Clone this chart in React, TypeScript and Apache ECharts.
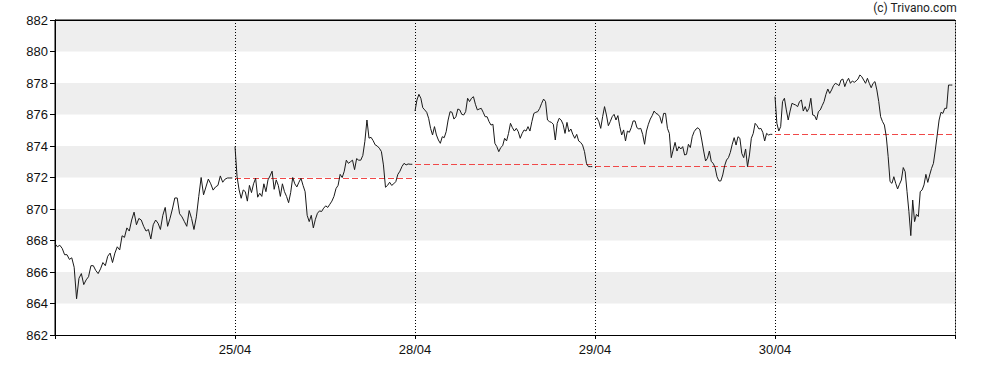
import React, { useEffect, useRef } from "react";
import * as echarts from "echarts";

const dayLabels = ["24/04", "25/04", "28/04", "29/04", "30/04"];
const yTicks = [862, 864, 866, 868, 870, 872, 874, 876, 878, 880, 882];

const day1 = [867.8, 867.6, 867.7, 867.5, 867.1, 867.1, 866.8, 866.9, 866.3, 864.3, 865.6, 865.9, 865.2, 865.5, 865.7, 866.4, 866.4, 866.1, 865.9, 866.2, 866.6, 866.4, 867.0, 867.2, 866.6, 867.2, 867.6, 867.4, 868.3, 868.2, 868.8, 868.6, 869.3, 869.8, 869.0, 869.4, 869.3, 868.9, 868.6, 868.7, 868.1, 869.0, 869.3, 869.1, 868.7, 869.6, 870.1, 868.9, 869.4, 870.0, 870.7, 870.7, 869.7, 869.5, 869.2, 868.9, 869.9, 869.4, 868.7, 869.5, 870.8, 872.0, 870.9, 871.4, 871.9, 871.6, 871.2, 871.4, 871.5, 872.1, 871.7, 871.9, 871.97, 871.97, 871.97];

const day2 = [873.96, 872.06, 871.21, 870.68, 871.21, 871.1, 870.5, 871.5, 871.04, 871.6, 871.95, 870.75, 871.0, 870.8, 871.6, 871.1, 871.85, 872.1, 872.4, 871.25, 871.85, 871.5, 870.8, 871.6, 871.1, 870.8, 870.4, 871.04, 872.0, 871.6, 871.4, 871.7, 871.95, 871.5, 871.1, 869.6, 869.2, 869.6, 868.8, 869.35, 869.73, 869.88, 869.84, 870.05, 870.2, 870.1, 870.3, 870.5, 870.8, 871.3, 871.5, 872.2, 872.0, 872.4, 873.1, 872.9, 873.0, 873.1, 872.5, 873.2, 873.1, 873.1, 873.4, 874.3, 875.65, 874.5, 874.55, 874.34, 874.07, 874.0, 873.86, 873.65, 872.8, 871.38, 871.5, 871.7, 871.5, 871.6, 871.74, 872.2, 872.4, 872.7, 872.9, 872.8, 872.86, 872.84, 872.84];

const day3 = [876.22, 876.92, 877.28, 877.03, 876.43, 876.29, 876.14, 875.76, 875.12, 874.7, 875.23, 874.7, 874.38, 874.17, 874.59, 874.53, 874.91, 875.65, 876.18, 876.14, 875.71, 875.86, 876.35, 876.29, 876.01, 875.97, 876.18, 877.03, 876.82, 877.03, 877.13, 876.65, 876.29, 876.35, 876.39, 876.14, 875.86, 875.86, 875.55, 875.33, 875.38, 874.17, 873.96, 873.64, 873.9, 874.02, 874.49, 874.32, 874.8, 875.44, 875.16, 874.95, 875.12, 874.91, 874.49, 874.8, 875.02, 874.95, 875.23, 874.95, 875.55, 876.07, 876.14, 876.18, 876.39, 876.71, 876.98, 876.82, 875.65, 875.55, 875.5, 875.38, 874.38, 875.44, 875.76, 875.65, 875.38, 874.8, 875.5, 874.91, 875.08, 874.74, 874.49, 874.74, 874.32, 874.23, 874.06, 873.64, 872.9, 872.69, 872.69, 872.69];

const day4 = [875.65, 875.8, 875.55, 875.12, 875.86, 876.5, 875.97, 875.29, 875.55, 875.86, 876.01, 875.65, 875.93, 875.23, 874.7, 875.02, 874.32, 874.95, 874.87, 875.16, 875.59, 875.59, 875.16, 875.08, 875.12, 874.74, 874.11, 874.95, 875.38, 875.71, 875.93, 876.22, 876.07, 876.01, 875.86, 875.44, 876.07, 876.07, 875.12, 874.8, 873.26, 873.75, 874.23, 873.68, 873.96, 873.81, 873.96, 873.43, 873.47, 874.11, 873.9, 874.59, 874.91, 875.08, 875.16, 875.02, 874.38, 873.68, 873.05, 873.22, 873.68, 873.01, 872.9, 872.63, 872.05, 871.78, 871.78, 872.16, 872.75, 873.11, 873.26, 873.6, 874.11, 874.53, 874.06, 874.59, 874.49, 873.53, 873.26, 873.81, 872.69, 873.43, 874.49, 874.8, 875.44, 875.29, 875.08, 875.12, 874.87, 874.32, 874.8, 874.7, 874.74, 874.74];

const day5 = [877.13, 875.44, 874.95, 875.23, 876.82, 877.03, 876.29, 875.65, 876.22, 876.71, 876.65, 876.6, 876.5, 876.82, 876.92, 876.22, 876.5, 876.18, 876.39, 877.03, 875.97, 875.93, 875.65, 876.18, 876.29, 876.56, 876.82, 877.28, 877.62, 877.34, 877.56, 877.83, 877.98, 877.92, 877.83, 878.19, 878.25, 877.77, 878.09, 878.3, 877.98, 878.13, 878.04, 878.13, 878.25, 878.51, 878.4, 878.19, 877.98, 878.3, 877.98, 877.7, 877.98, 878.09, 877.56, 876.82, 875.86, 875.55, 875.33, 874.59, 873.32, 871.74, 871.63, 872.05, 871.63, 871.27, 871.57, 871.84, 872.63, 872.37, 871.1, 869.83, 868.31, 870.57, 869.2, 869.66, 869.52, 871.1, 871.21, 871.53, 872.2, 871.69, 872.16, 872.58, 872.9, 873.75, 874.7, 875.65, 876.14, 876.07, 876.39, 876.39, 877.87, 877.87, 877.87];

const days = [day1, day2, day3, day4, day5];

export default function App() {
  const ref = useRef<HTMLDivElement>(null);
  useEffect(() => {
    document.body.style.margin = "0";
    const chart = echarts.init(ref.current!, null, { renderer: "svg" });
    const DAY = 100;
    const SPAN = 98.5;
    const priceSeries = days.map((vals, d) => {
      const s: any = {
        type: "line",
        data: vals.map((v, i) => [d * DAY + (i * SPAN) / (vals.length - 1), v]),
        showSymbol: false,
        symbol: "none",
        color: "#1a1a1a",
        lineStyle: { color: "#1a1a1a", width: 1 },
        z: 5,
        silent: true,
      };
      if (d > 0) {
        const prev = days[d - 1][days[d - 1].length - 1];
        s.markLine = {
          silent: true,
          symbol: "none",
          label: { show: false },
          z: 3,
          lineStyle: { color: "#f04848", width: 1, type: [6, 3], opacity: 1 },
          emphasis: { disabled: true },
          data: [
            [
              { coord: [d * DAY, prev] },
              { coord: [d * DAY + SPAN, prev] },
            ],
          ],
        };
      }
      return s;
    });
    const font = "'Liberation Sans', Arial, sans-serif";
    chart.setOption({
      animation: false,
      grid: {
        left: 55,
        right: 33,
        top: 20,
        bottom: 35,
        show: true,
        borderColor: "#000",
        borderWidth: 1,
        backgroundColor: "transparent",
      },
      graphic: [
        {
          type: "text",
          right: 31,
          top: 2,
          style: {
            text: "(c) Trivano.com",
            font: "12px Roboto, 'Liberation Sans', sans-serif",
            fill: "#222",
          },
        },
      ],
      xAxis: [
        {
          type: "value",
          min: 0,
          max: 5 * DAY,
          interval: DAY,
          axisLine: { show: true, lineStyle: { color: "#000", width: 1 } },
          axisTick: { show: true, length: 4, lineStyle: { color: "#000" } },
          axisLabel: {
            show: true,
            margin: 8,
            fontSize: 13,
            fontFamily: font,
            color: "#111",
            formatter: (v: number) => {
              const d = Math.round(v / DAY);
              return d >= 1 && d <= 4 ? dayLabels[d] : "";
            },
          },
          splitLine: {
            show: true,
            lineStyle: { color: "#000", width: 1, type: [1, 2] },
          },
        },
        {
          type: "value",
          position: "top",
          min: 0,
          max: 5 * DAY,
          axisLine: { show: true, lineStyle: { color: "#000", width: 1 } },
          axisTick: { show: false },
          axisLabel: { show: false },
          splitLine: { show: false },
        },
      ],
      yAxis: [
        {
          type: "value",
          min: yTicks[0],
          max: yTicks[yTicks.length - 1],
          interval: 2,
          axisLine: { show: true, lineStyle: { color: "#000", width: 1 } },
          axisTick: { show: true, length: 5, lineStyle: { color: "#000" } },
          axisLabel: {
            margin: 7,
            fontSize: 13,
            fontFamily: font,
            color: "#111",
          },
          splitLine: { show: false },
          splitArea: {
            show: true,
            areaStyle: { color: ["#ffffff", "#eeeeee"] },
          },
        },
        {
          type: "value",
          position: "right",
          min: yTicks[0],
          max: yTicks[yTicks.length - 1],
          axisLine: { show: true, lineStyle: { color: "#000", width: 1 } },
          axisTick: { show: false },
          axisLabel: { show: false },
          splitLine: { show: false },
        },
      ],
      series: priceSeries,
    });
    return () => chart.dispose();
  }, []);
  return <div ref={ref} style={{ width: 988, height: 370 }} />;
}
